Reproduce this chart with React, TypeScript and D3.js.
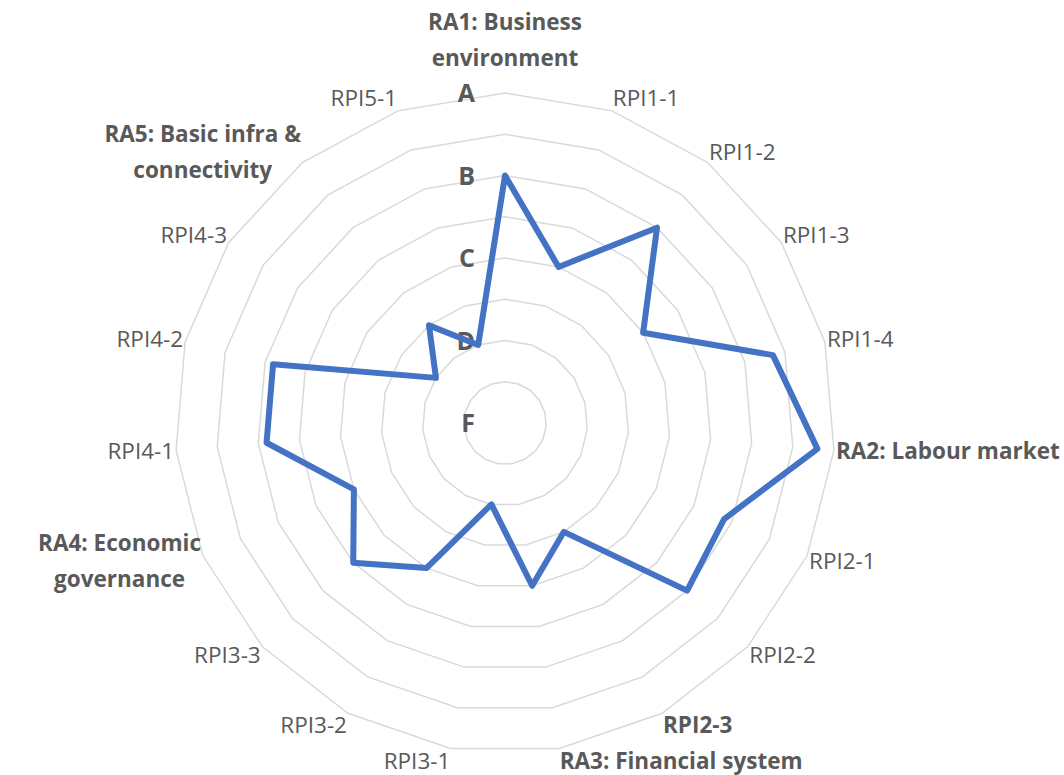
import React, { useEffect, useRef } from "react";
import * as d3 from "d3";

const categories = [
  "RA1: Business\nenvironment",
  "RPI1-1",
  "RPI1-2",
  "RPI1-3",
  "RPI1-4",
  "RA2: Labour market",
  "RPI2-1",
  "RPI2-2",
  "RPI2-3",
  "RA3: Financial system",
  "RPI3-1",
  "RPI3-2",
  "RPI3-3",
  "RA4: Economic\ngovernance",
  "RPI4-1",
  "RPI4-2",
  "RPI4-3",
  "RA5: Basic infra &\nconnectivity",
  "RPI5-1",
];

const boldCategories = [
  "RA1: Business\nenvironment",
  "RA2: Labour market",
  "RPI2-3",
  "RA3: Financial system",
  "RA4: Economic\ngovernance",
  "RA5: Basic infra &\nconnectivity",
];

const scores = [3, 2, 3, 2, 3.35, 3.8, 2.9, 3, 1.5, 2, 1, 2, 2.5, 2, 2.9, 2.9, 1, 1.5, 1];

const gradeValues = [0, 1, 2, 3, 4];
const gradeLabels = ["F", "D", "C", "B", "A"];
const gridValues = [0.5, 1, 1.5, 2, 2.5, 3, 3.5, 4];

const RadarChart = () => {
  const svgRef = useRef<SVGSVGElement>(null);

  useEffect(() => {
    const width = 1064;
    const height = 775;
    const cx = 505;
    const cy = 423;
    const radius = 330;
    const fontSize = 22.5;
    const lineGap = 36;
    const textColor = "#595959";
    const font = "'Open Sans', 'Noto Sans', sans-serif";

    const svg = d3.select(svgRef.current);
    svg.selectAll("*").remove();
    svg.attr("width", width).attr("height", height);

    const n = categories.length;
    const angle = d3.scaleLinear().domain([0, n]).range([0, 2 * Math.PI]);
    const r = d3.scaleLinear().domain([0, 4]).range([0, radius]);

    const g = svg.append("g").attr("transform", `translate(${cx},${cy})`);

    const radial = d3
      .lineRadial<number>()
      .angle((_, i) => angle(i))
      .radius((d) => r(d))
      .curve(d3.curveLinearClosed);

    // gridline rings
    g.selectAll(".ring")
      .data(gridValues)
      .enter()
      .append("path")
      .attr("d", (v) => radial(categories.map(() => v)))
      .attr("fill", "none")
      .attr("stroke", "#d9d9d9")
      .attr("stroke-width", 1.5);

    // grade labels on the value axis
    g.selectAll(".grade")
      .data(gradeValues)
      .enter()
      .append("text")
      .attr("x", -30)
      .attr("y", (d) => -r(d))
      .attr("dy", "0.36em")
      .attr("text-anchor", "end")
      .attr("font-family", font)
      .attr("font-size", "25px")
      .attr("font-weight", "bold")
      .attr("fill", textColor)
      .text((_, i) => gradeLabels[i]);

    // series line
    g.append("path")
      .attr("d", radial(scores))
      .attr("fill", "none")
      .attr("stroke", "#4472C4")
      .attr("stroke-width", 6)
      .attr("stroke-linejoin", "round");

    // category labels, placed just outside the outer ring
    const L = radius + 2;
    categories.forEach((cat, i) => {
      const a = angle(i);
      const s = Math.sin(a);
      const c = Math.cos(a);
      const px = L * s;
      const py = -L * c;
      const lines = cat.split("\n");

      const text = g
        .append("text")
        .attr("text-anchor", "middle")
        .attr("font-family", font)
        .attr("font-size", `${fontSize}px`)
        .attr("font-weight", boldCategories.includes(cat) ? "bold" : "normal")
        .attr("fill", textColor);

      const spans = lines.map((line, k) =>
        text
          .append("tspan")
          .attr("x", 0)
          .attr("y", k * lineGap)
          .attr("dy", "0.35em")
          .text(line)
      );
      const w = (text.node() as SVGTextElement).getBBox().width;

      const bx = s > 0.01 ? px + w / 2 : s < -0.01 ? px - w / 2 : px;
      const lift = Math.abs(s) < 0.01 && c > 0 ? 40 : 0;
      const by = py - (fontSize / 2) * c - lift;

      spans.forEach((span, k) => {
        span.attr("x", bx).attr("y", by + (k - (lines.length - 1) / 2) * lineGap);
      });
    });
  }, []);

  return (
    <svg
      ref={svgRef}
      style={{ position: "absolute", left: 0, top: 0, display: "block", background: "#fff" }}
    />
  );
};

export default function App() {
  return <RadarChart />;
}
